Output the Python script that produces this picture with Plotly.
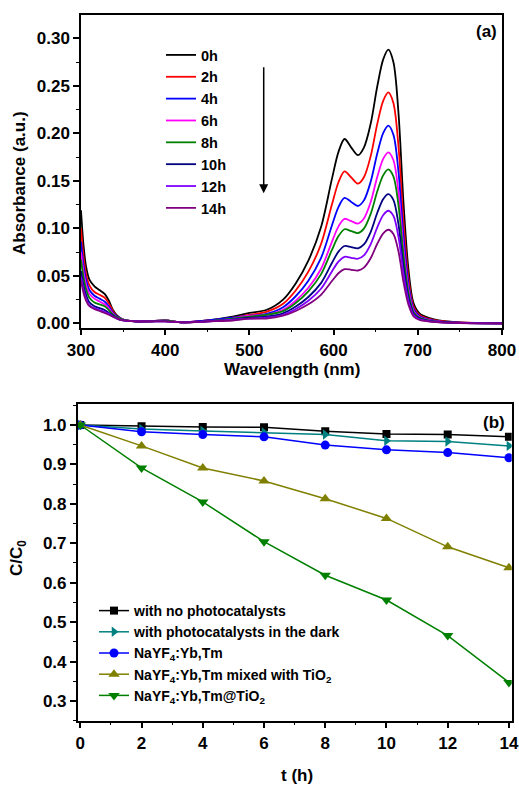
import plotly.graph_objects as go

# ---------------- Panel (a): absorption spectra ----------------
wavelength = [300, 303, 306, 310, 316, 322, 328, 333, 338, 343, 350, 365, 380, 400, 420, 450, 480, 500, 520,
              540, 555, 570, 585, 598, 606, 613, 621, 629, 636, 644, 652, 659, 665, 671, 677, 683, 689, 695,
              702, 712, 725, 750, 800]

abs_0h = [0.119, 0.082, 0.060, 0.046, 0.039, 0.035, 0.031, 0.024, 0.014, 0.008, 0.004, 0.002, 0.002, 0.003, 0.001, 0.003, 0.007, 0.011, 0.014,
          0.025, 0.042, 0.066, 0.101, 0.152, 0.181, 0.194, 0.185, 0.177, 0.185, 0.210, 0.250, 0.278, 0.288, 0.275, 0.222, 0.127, 0.056, 0.021,
          0.0105, 0.006, 0.003, 0.001, 0.0]
abs_2h = [0.100, 0.070, 0.052, 0.040, 0.033, 0.030, 0.027, 0.021, 0.013, 0.007, 0.004, 0.002, 0.002, 0.003, 0.001, 0.003, 0.006, 0.009, 0.012,
          0.0206, 0.0346, 0.0544, 0.0832, 0.125, 0.149, 0.160, 0.1535, 0.147, 0.1537, 0.1758, 0.2104, 0.2344, 0.243, 0.232, 0.187, 0.107, 0.047, 0.0177,
          0.0087, 0.005, 0.0025, 0.001, 0.0]
abs_4h = [0.086, 0.061, 0.046, 0.035, 0.029, 0.026, 0.023, 0.018, 0.011, 0.007, 0.004, 0.002, 0.002, 0.003, 0.001, 0.003, 0.006, 0.008, 0.010,
          0.017, 0.0285, 0.0449, 0.0686, 0.103, 0.1228, 0.132, 0.1278, 0.1235, 0.1294, 0.1489, 0.1793, 0.2004, 0.208, 0.1986, 0.160, 0.0915, 0.0406, 0.0152,
          0.0075, 0.0042, 0.0021, 0.0006, 0.0]
abs_6h = [0.075, 0.054, 0.041, 0.031, 0.026, 0.023, 0.020, 0.016, 0.010, 0.006, 0.004, 0.002, 0.002, 0.003, 0.001, 0.002, 0.005, 0.008, 0.009,
          0.0142, 0.0238, 0.0374, 0.0572, 0.0858, 0.1023, 0.110, 0.1075, 0.105, 0.1103, 0.1275, 0.1545, 0.1733, 0.180, 0.1719, 0.1386, 0.0792, 0.0351, 0.0131,
          0.0065, 0.0036, 0.0018, 0.0005, 0.0]
abs_8h = [0.067, 0.048, 0.036, 0.027, 0.022, 0.020, 0.018, 0.014, 0.009, 0.006, 0.004, 0.002, 0.002, 0.003, 0.001, 0.002, 0.005, 0.007, 0.009,
          0.0128, 0.0214, 0.0337, 0.0515, 0.0772, 0.0921, 0.099, 0.097, 0.095, 0.0997, 0.1151, 0.1392, 0.156, 0.162, 0.1547, 0.1247, 0.0713, 0.0316, 0.0118,
          0.0058, 0.0032, 0.0016, 0.0005, 0.0]
abs_10h = [0.055, 0.040, 0.030, 0.022, 0.018, 0.016, 0.014, 0.011, 0.008, 0.005, 0.003, 0.002, 0.002, 0.002, 0.001, 0.002, 0.004, 0.006, 0.007,
           0.0105, 0.0176, 0.0277, 0.0423, 0.0635, 0.0757, 0.0814, 0.0802, 0.079, 0.083, 0.0961, 0.1166, 0.1309, 0.136, 0.1299, 0.1047, 0.0598, 0.0265, 0.0099,
           0.0049, 0.0027, 0.0014, 0.0004, 0.0]
abs_12h = [0.049, 0.035, 0.026, 0.019, 0.016, 0.014, 0.012, 0.010, 0.007, 0.005, 0.003, 0.002, 0.002, 0.002, 0.001, 0.002, 0.004, 0.005, 0.006,
           0.009, 0.0151, 0.0238, 0.0364, 0.0546, 0.0651, 0.070, 0.069, 0.068, 0.0715, 0.0832, 0.1013, 0.114, 0.1185, 0.1132, 0.0912, 0.0521, 0.0231, 0.0087,
           0.0043, 0.0024, 0.0012, 0.0004, 0.0]
abs_14h = [0.045, 0.032, 0.024, 0.018, 0.015, 0.013, 0.011, 0.009, 0.007, 0.005, 0.003, 0.002, 0.002, 0.002, 0.001, 0.002, 0.003, 0.005, 0.005,
           0.008, 0.013, 0.020, 0.030, 0.0445, 0.053, 0.057, 0.0563, 0.0556, 0.0586, 0.0685, 0.0840, 0.0947, 0.0985, 0.0941, 0.0758, 0.0433, 0.0192, 0.0072,
           0.0035, 0.002, 0.001, 0.0003, 0.0]

spectra_labels = ["0h", "2h", "4h", "6h", "8h", "10h", "12h", "14h"]
spectra_values = [abs_0h, abs_2h, abs_4h, abs_6h, abs_8h, abs_10h, abs_12h, abs_14h]
spectra_colors = ["#000000", "#ff0000", "#0000ff", "#ff00ff", "#008000", "#000080", "#8000ff", "#800080"]

# ---------------- Panel (b): degradation kinetics ----------------
time_h = [0, 2, 4, 6, 8, 10, 12, 14]
c_no_cat = [1.0, 0.997, 0.995, 0.994, 0.984, 0.977, 0.976, 0.970]
c_dark = [1.0, 0.990, 0.985, 0.981, 0.976, 0.960, 0.958, 0.947]
c_nayf = [1.0, 0.983, 0.976, 0.970, 0.949, 0.937, 0.930, 0.917]
c_mixed = [1.0, 0.947, 0.891, 0.858, 0.813, 0.763, 0.691, 0.638]
c_core = [1.0, 0.891, 0.805, 0.704, 0.619, 0.556, 0.466, 0.347]

kin_labels = ["with no photocatalysts", "with photocatalysts in the dark", "NaYF<sub>4</sub>:Yb,Tm",
              "NaYF<sub>4</sub>:Yb,Tm mixed with TiO<sub>2</sub>", "NaYF<sub>4</sub>:Yb,Tm@TiO<sub>2</sub>"]
kin_values = [c_no_cat, c_dark, c_nayf, c_mixed, c_core]
kin_colors = ["#000000", "#008080", "#0000ff", "#808000", "#008000"]
kin_symbols = ["square", "triangle-right", "circle", "triangle-up", "triangle-down"]
kin_sizes = [8, 9, 9, 10, 10]

FONT = "Liberation Sans, Arial, sans-serif"
W, H = 519, 785

fig = go.Figure()

for lab, vals, col in zip(spectra_labels, spectra_values, spectra_colors):
    fig.add_trace(go.Scatter(x=wavelength, y=vals, name=lab, mode="lines",
                             line=dict(color=col, width=1.8, shape="spline", smoothing=0.9),
                             xaxis="x", yaxis="y", legend="legend"))

for lab, vals, col, sym, sz in zip(kin_labels, kin_values, kin_colors, kin_symbols, kin_sizes):
    fig.add_trace(go.Scatter(x=time_h, y=vals, name=lab, mode="lines+markers",
                             line=dict(color=col, width=1.5),
                             marker=dict(symbol=sym, size=sz, color=col),
                             xaxis="x2", yaxis="y2", legend="legend2"))

def px_x(p):
    return p / W

def px_y(p):
    return (H - p) / H

axis_common = dict(showline=True, linecolor="black", linewidth=1.5, mirror=True,
                   ticks="outside", ticklen=6, tickwidth=1.5, tickcolor="black",
                   showgrid=False, zeroline=False, automargin=False,
                   tickfont=dict(family=FONT, size=17, color="black", weight="bold"))

fig.update_layout(
    template="none",
    width=W, height=H, margin=dict(l=0, r=0, t=0, b=0, autoexpand=False),
    paper_bgcolor="white", plot_bgcolor="white",
    font=dict(family=FONT, color="black"),
    xaxis=dict(domain=[px_x(81), px_x(502)], range=[300, 800], dtick=100, anchor="y",
               minor=dict(dtick=50, ticks="outside", ticklen=3, tickwidth=1.2, tickcolor="black"),
               **axis_common),
    yaxis=dict(domain=[px_y(327.7), px_y(15)], range=[-0.0046, 0.3245], dtick=0.05, tickformat=".2f",
               anchor="x",
               minor=dict(dtick=0.025, ticks="outside", ticklen=3, tickwidth=1.2, tickcolor="black"),
               **axis_common),
    xaxis2=dict(domain=[px_x(77.7), px_x(511.7)], range=[-0.085, 14.09], dtick=2, anchor="y2",
                minor=dict(dtick=1, ticks="outside", ticklen=3, tickwidth=1.2, tickcolor="black"),
                **axis_common),
    yaxis2=dict(domain=[px_y(720.7), px_y(404.3)], range=[0.25, 1.0525], dtick=0.1, tickformat=".1f",
                anchor="x2",
                minor=dict(dtick=0.05, ticks="outside", ticklen=3, tickwidth=1.2, tickcolor="black"),
                **axis_common),
    legend=dict(x=px_x(161), y=px_y(39), xanchor="left", yanchor="top", bgcolor="rgba(0,0,0,0)",
                borderwidth=0,
                font=dict(family=FONT, size=14.5, color="black", weight="bold"), tracegroupgap=0),
    legend2=dict(x=px_x(94), y=px_y(595), xanchor="left", yanchor="top", bgcolor="rgba(0,0,0,0)",
                 borderwidth=0,
                 font=dict(family=FONT, size=14, color="black", weight="bold"), tracegroupgap=0),
    showlegend=True,
)

title_font = dict(family=FONT, size=17, color="black", weight="bold")
annots = [
    dict(text="Wavelength (nm)", x=px_x(291.5), y=px_y(369), xref="paper", yref="paper",
         showarrow=False, font=title_font, xanchor="center", yanchor="middle"),
    dict(text="Absorbance (a.u.)", x=px_x(20), y=px_y(183), xref="paper", yref="paper",
         showarrow=False, font=title_font, textangle=-90, xanchor="center", yanchor="middle"),
    dict(text="t (h)", x=px_x(296.7), y=px_y(775), xref="paper", yref="paper",
         showarrow=False, font=title_font, xanchor="center", yanchor="middle"),
    dict(text="C/C<sub>0</sub>", x=px_x(18), y=px_y(558), xref="paper", yref="paper",
         showarrow=False, font=title_font, textangle=-90, xanchor="center", yanchor="middle"),
    dict(text="(a)", x=px_x(486), y=px_y(31.7), xref="paper", yref="paper",
         showarrow=False, font=title_font, xanchor="center", yanchor="middle"),
    dict(text="(b)", x=px_x(494), y=px_y(422.7), xref="paper", yref="paper",
         showarrow=False, font=title_font, xanchor="center", yanchor="middle"),
    dict(x=517, y=0.137, ax=517, ay=0.271, xref="x", yref="y", axref="x", ayref="y",
         showarrow=True, arrowhead=2, arrowsize=1.2, arrowwidth=1.5, arrowcolor="black", text=""),
]
fig.update_layout(annotations=annots)

fig.write_html("out.html")
